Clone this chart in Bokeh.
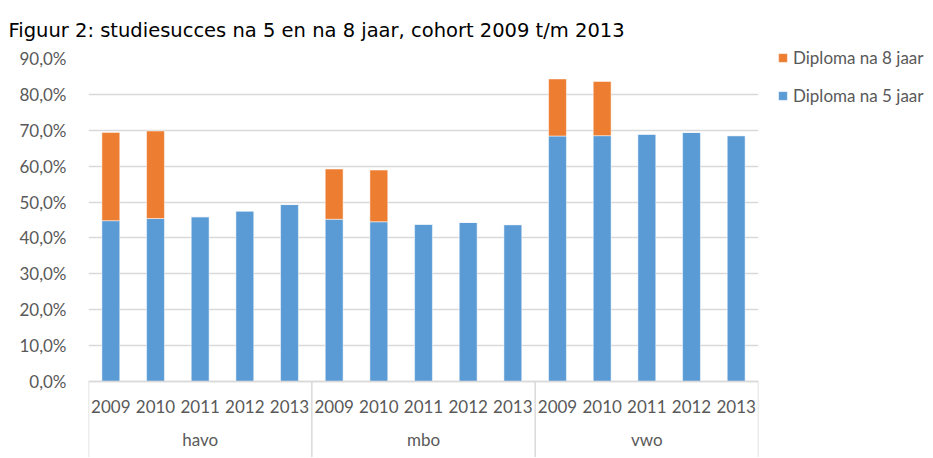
from bokeh.plotting import figure
from bokeh.models import FactorRange, ColumnDataSource, Legend, LegendItem, FixedTicker, Range1d
from bokeh.embed import file_html
from bokeh.resources import INLINE

groups = ["havo", "mbo", "vwo"]
years = ["2009", "2010", "2011", "2012", "2013"]
diploma5 = [44.8, 45.4, 45.9, 47.5, 49.3,
            45.2, 44.5, 43.8, 44.3, 43.7,
            68.4, 68.5, 68.9, 69.4, 68.5]
diploma8_extra = [24.6, 24.4, 0, 0, 0,
                  14.0, 14.4, 0, 0, 0,
                  15.9, 15.1, 0, 0, 0]
y_ticks = [0, 10, 20, 30, 40, 50, 60, 70, 80, 90]
y_tick_labels = ["0,0%", "10,0%", "20,0%", "30,0%", "40,0%", "50,0%", "60,0%", "70,0%", "80,0%", "90,0%"]
title_text = "Figuur 2: studiesucces na 5 en na 8 jaar, cohort 2009 t/m 2013"
series_names = ["Diploma na 5 jaar", "Diploma na 8 jaar"]

BLUE = "#5B9BD5"
ORANGE = "#ED7D31"
GRID = "#D9D9D9"
TXT = "#595959"
FONT = "Lato"
Y_MIN = -21.2

factors = [(g, y) for g in groups for y in years]
source = ColumnDataSource(dict(x=factors, d5=diploma5, d8=diploma8_extra))

xr = FactorRange(factors=factors, group_padding=0, factor_padding=0, range_padding=0)
p = figure(x_range=xr, y_range=Range1d(Y_MIN, 90), frame_width=670, frame_height=399,
           output_backend="svg", toolbar_location=None,
           min_border_left=88, min_border_right=174, min_border_top=58, min_border_bottom=0)

rs = p.vbar_stack(["d5", "d8"], x="x", width=0.4, color=[BLUE, ORANGE], source=source,
                  line_color="white", line_width=0.5)

# group separator lines below the axis (synthetic factor coordinates)
n = len(years)
sep_x = [i * n for i in range(len(groups) + 1)]
p.segment(x0=sep_x, y0=[0] * len(sep_x), x1=sep_x, y1=[Y_MIN] * len(sep_x),
          line_color=GRID, line_width=1.5)

p.title.text = title_text
p.title.text_font = "DejaVu Sans"
p.title.text_font_size = "19.5px"
p.title.text_font_style = "normal"
p.title.text_color = "#000000"
p.title.offset = -80
p.title.standoff = 33

p.outline_line_color = None
p.xgrid.grid_line_color = None
p.ygrid.grid_line_color = GRID
p.ygrid.grid_line_width = 1.5

p.yaxis.ticker = FixedTicker(ticks=y_ticks)
p.yaxis.major_label_overrides = {t: l for t, l in zip(y_ticks, y_tick_labels)}
p.yaxis.axis_line_color = None
p.yaxis.major_tick_line_color = None
p.yaxis.minor_tick_line_color = None
p.yaxis.major_label_text_font = FONT
p.yaxis.major_label_text_font_size = "17px"
p.yaxis.major_label_text_color = TXT
p.yaxis.major_label_standoff = 16

ax = p.xaxis[0]
ax.fixed_location = 0
ax.axis_line_color = GRID
ax.axis_line_width = 1.5
ax.major_tick_line_color = None
ax.minor_tick_line_color = None
ax.major_label_text_font = FONT
ax.major_label_text_font_size = "17px"
ax.major_label_text_color = TXT
ax.major_label_standoff = 13
ax.group_text_font = FONT
ax.group_text_font_size = "17px"
ax.group_text_font_style = "normal"
ax.group_text_color = TXT
ax.separator_line_color = None

legend = Legend(items=[LegendItem(label=series_names[1], renderers=[rs[1]]),
                       LegendItem(label=series_names[0], renderers=[rs[0]])],
                location=(19, 351), orientation="vertical")
legend.glyph_width = 11
legend.glyph_height = 11
legend.label_height = 11
legend.spacing = 17
legend.padding = 0
legend.margin = 0
legend.label_standoff = 5
legend.border_line_color = None
legend.background_fill_alpha = 0
legend.label_text_font = FONT
legend.label_text_font_size = "17px"
legend.label_text_color = TXT
p.add_layout(legend, "right")

open("out.html", "w").write(file_html(p, INLINE))
